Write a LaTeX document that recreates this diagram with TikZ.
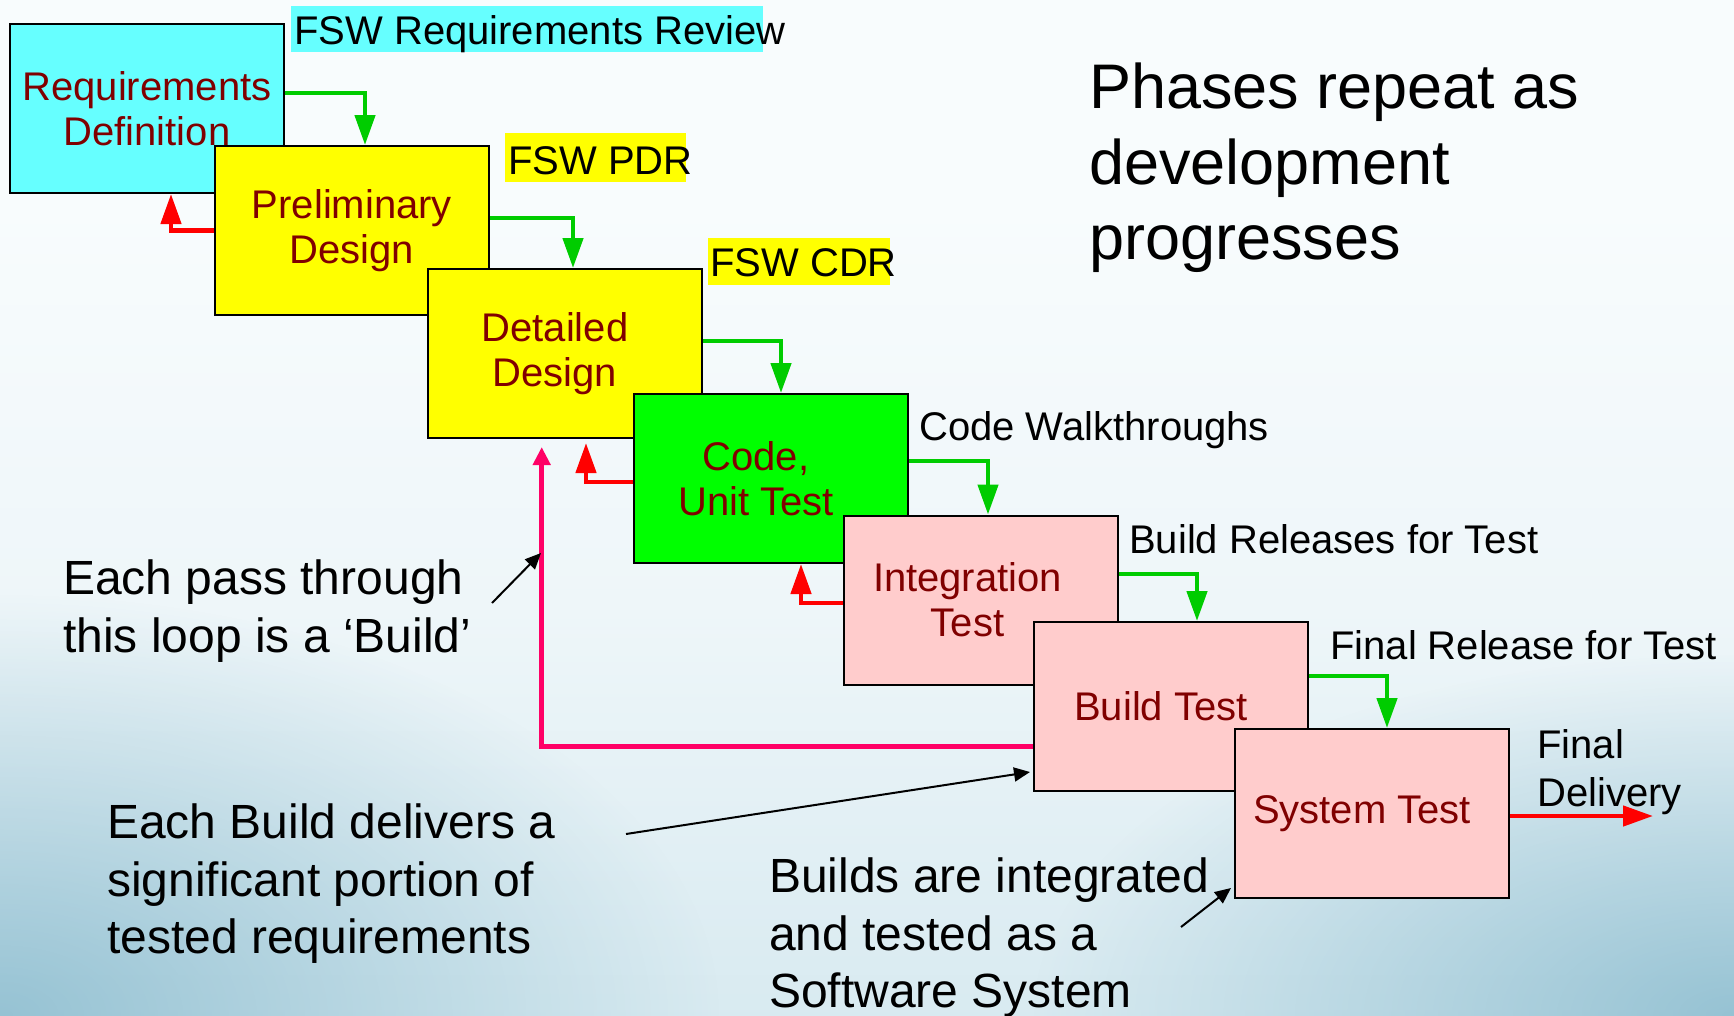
\documentclass[tikz,border=0pt]{standalone}
\usepackage{fontspec}
\setmainfont{Liberation Sans}
\usetikzlibrary{arrows.meta,fadings}
\tikzset{>=latex}
\definecolor{reqcyan}{HTML}{66FFFF}
\definecolor{designyellow}{HTML}{FFFF00}
\definecolor{codegreen}{HTML}{00FF00}
\definecolor{testpink}{HTML}{FFCCCC}
\definecolor{boxtext}{HTML}{800000}
\definecolor{passgreen}{HTML}{00CC00}
\definecolor{failred}{HTML}{FF0000}
\definecolor{buildloop}{HTML}{FF0066}
\definecolor{bgtop}{HTML}{F8FCFD}
\definecolor{bglight}{HTML}{EEF6F9}
\definecolor{bgmid}{HTML}{D4E8EF}
\definecolor{bgbot}{HTML}{B2D5E0}
\definecolor{bgswoosh}{HTML}{6AA8C0}
\pgfdeclareverticalshading{slidebg}{100bp}{color(0bp)=(bgbot); color(21bp)=(bgmid); color(45bp)=(bglight); color(65bp)=(bgtop); color(100bp)=(bgtop)}
\tikzfading[name=softspot, inner color=transparent!0, outer color=transparent!100]

\tikzset{
  phase/.style={draw=black, line width=2pt, minimum width=274pt, minimum height=169pt, inner sep=0pt, align=center, text=boxtext, font=\fontsize{40}{45}\selectfont},
  milestone/.style={anchor=base west, inner sep=0pt, font=\fontsize{40}{48}\selectfont},
  note/.style={anchor=north west, inner sep=0pt, align=left, font=\fontsize{48}{57.5}\selectfont},
  pass/.style={draw=passgreen, line width=4.5pt, -{Triangle[length=30pt,width=20pt]}},
  fail/.style={draw=failred, line width=4.5pt, -{Triangle[length=30pt,width=20pt]}},
  rebuild/.style={draw=buildloop, line width=5pt, -{Triangle[length=18pt,width=17pt]}},
  pointer/.style={draw=black, line width=2pt, -{Triangle[length=16pt,width=14pt]}},
}

\begin{document}
\begin{tikzpicture}[x=1pt,y=-1pt]
	\useasboundingbox (0,0) rectangle (1734,1015);
	% slide background
	\shade[shading=slidebg] (0,0) rectangle (1734,1015);
	\fill[bgswoosh,opacity=0.6,path fading=softspot] (0,1015) ellipse (720 and 420);
	\fill[bgswoosh,opacity=0.6,path fading=softspot] (1734,1015) ellipse (700 and 360);

	% phases
	\node[phase,fill=reqcyan] (reqdef) at (147,108.5) {Requirements\\Definition};
	\node[phase,fill=designyellow] (prelim) at (352,230.5) {Preliminary\\Design};
	\node[phase,fill=designyellow] (detail) at (565,353.5) {Detailed\hspace*{20pt}\\Design\hspace*{20pt}};
	\node[phase,fill=codegreen] (code) at (771,478.5) {Code,\hspace*{30pt}\\Unit Test\hspace*{30pt}};
	\node[phase,fill=testpink] (integ) at (980.5,600) {Integration\hspace*{26pt}\\Test\hspace*{26pt}};
	\node[phase,fill=testpink] (buildtest) at (1171,706.5) {Build Test\hspace*{20pt}};
	\node[phase,fill=testpink] (systest) at (1372,813.5) {System Test\hspace*{20pt}};

	% forward flow
	\draw[pass] ([yshift=15.5pt]reqdef.east) -| ([xshift=13pt]prelim.north);
	\draw[pass] ([yshift=12.5pt]prelim.east) -| ([xshift=8pt]detail.north);
	\draw[pass] ([yshift=12.5pt]detail.east) -| ([xshift=10pt]code.north);
	\draw[pass] ([yshift=17.5pt]code.east) -| ([xshift=7.5pt]integ.north);
	\draw[pass] ([yshift=26pt]integ.east) -| ([xshift=26pt]buildtest.north);
	\draw[pass] ([yshift=30.5pt]buildtest.east) -| ([xshift=15pt]systest.north);

	% feedback
	\draw[fail] (prelim.west) -| ([xshift=24pt]reqdef.south);
	\draw[fail] ([yshift=-3.5pt]code.west) -| ([xshift=21pt,yshift=-4pt]detail.south);
	\draw[fail] ([yshift=-3pt]integ.west) -| ([xshift=30pt]code.south);
	\draw[rebuild] ([yshift=-39.5pt]buildtest.west) -| ([xshift=-23.3pt,yshift=-8pt]detail.south);

	\coordinate (handoff) at (1653,816);
	\draw[fail] ([yshift=-2.5pt]systest.east) -- (handoff);

	% reviews
	\fill[reqcyan] (291,6) rectangle (763,52);
	\node[milestone] (srr) at (294,44) {FSW Requirements Review};
	\fill[designyellow] (505,133) rectangle (686,182);
	\node[milestone] (pdr) at (508,174) {FSW PDR};
	\fill[designyellow] (708,238) rectangle (890,285);
	\node[milestone] (cdr) at (710,276) {FSW CDR};
	\node[milestone] (walk) at (919,440) {Code Walkthroughs};
	\node[milestone] (releases) at (1129,553) {Build Releases for Test};
	\node[milestone] (finalrel) at (1330,659) {Final Release for Test};
	\node[milestone,anchor=north west,align=left] (delivery) at (1537,729) {Final\\Delivery};

	% notes
	\node[note] (passnote) at (63,560) {Each pass through\\this loop is a ‘Build’};
	\node[note] (buildnote) at (107,804) {Each Build delivers a\\significant portion of\\tested requirements};
	\node[note] (systemnote) at (769,858) {Builds are integrated\\and tested as a\\Software System};
	\node[note,font=\fontsize{63}{75.5}\selectfont] (phasesnote) at (1089,63) {Phases repeat as\\development\\progresses};

	\coordinate (passtail) at (492,603);
	\coordinate (looptip) at (541,553);
	\coordinate (deliverstail) at (626,834);
	\coordinate (systemtail) at (1181,927);
	\draw[pointer] (passtail) -- (looptip);
	\draw[pointer] (deliverstail) -- ([xshift=-3pt,yshift=-65.5pt]buildtest.west);
	\draw[pointer] (systemtail) -- ([xshift=-3pt,yshift=11pt]systest.south west);
\end{tikzpicture}
\end{document}
